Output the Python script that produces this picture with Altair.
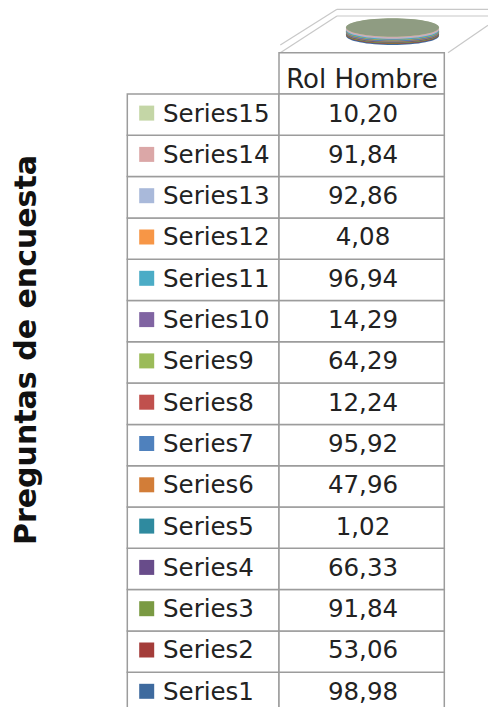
import altair as alt
import pandas as pd

# ---------------- data ----------------
series = ["Series1", "Series2", "Series3", "Series4", "Series5", "Series6", "Series7",
          "Series8", "Series9", "Series10", "Series11", "Series12", "Series13", "Series14", "Series15"]
values = [98.98, 53.06, 91.84, 66.33, 1.02, 47.96, 95.92, 12.24, 64.29, 14.29,
          96.94, 4.08, 92.86, 91.84, 10.20]
colors = ["#3e6a9e", "#a43d3a", "#7a9a43", "#684c8a", "#2f8a9f", "#d27d38", "#4f81bd",
          "#c0504d", "#9bbb59", "#8064a2", "#4bacc6", "#f79646", "#a9b9da", "#dba7a7", "#c4d6a6"]
column_header = "Rol Hombre"
axis_title = "Preguntas de encuesta"

# ---------------- layout ----------------
W, H = 480, 699
FONT = "DejaVu Sans"
TXT = "#222222"
GRID = "#9c9c9c"
FLOOR = "#c8c8c8"
TABLE_L, TABLE_M, TABLE_R = 119.3, 271, 436.3
TABLE_TOP, ROW_H = 86, 41.3
N = len(series)

df = pd.DataFrame({"series": series, "value": values, "color": colors})
df["idx"] = range(1, N + 1)

ys = alt.Scale(domain=[0, N], range=[TABLE_TOP, TABLE_TOP + N * ROW_H])

base = alt.Chart(df).transform_calculate(
    row=f"{N} - datum.idx",
    row_end=f"{N} - datum.idx + 1",
    sw=f"{N} - datum.idx + 0.4625",
    bl=f"{N} - datum.idx + 0.668",
    label="replace(format(datum.value, '.2f'), '.', ',')",
)

label_cells = base.mark_rect(fill="white", stroke=GRID, strokeWidth=1.5).encode(
    x=alt.value(TABLE_L), x2=alt.value(TABLE_M),
    y=alt.Y("row:Q", scale=ys, axis=None), y2="row_end:Q")
value_cells = base.mark_rect(fill="white", stroke=GRID, strokeWidth=1.5).encode(
    x=alt.value(TABLE_M), x2=alt.value(TABLE_R),
    y=alt.Y("row:Q", scale=ys, axis=None), y2="row_end:Q")
swatches = base.mark_square(size=225, filled=True, opacity=1).encode(
    x=alt.value(138.7),
    y=alt.Y("sw:Q", scale=ys, axis=None),
    color=alt.Color("color:N", scale=None))
names = base.mark_text(align="left", baseline="alphabetic", font=FONT, fontSize=24.5, color=TXT).encode(
    x=alt.value(155), y=alt.Y("bl:Q", scale=ys, axis=None), text="series:N")
nums = base.mark_text(align="center", baseline="alphabetic", font=FONT, fontSize=24.5, color=TXT).encode(
    x=alt.value(355), y=alt.Y("bl:Q", scale=ys, axis=None), text="label:N")

hdr_df = pd.DataFrame({"h": [column_header]})
hdr_cell = alt.Chart(hdr_df).mark_rect(fill="white", stroke=GRID, strokeWidth=1.5).encode(
    x=alt.value(TABLE_M), x2=alt.value(TABLE_R), y=alt.value(44.7), y2=alt.value(TABLE_TOP))
hdr_text = alt.Chart(hdr_df).mark_text(align="center", baseline="alphabetic", font=FONT,
                                       fontSize=26, color=TXT).encode(
    x=alt.value(354), y=alt.value(80), text="h:N")

title_df = pd.DataFrame({"t": [axis_title]})
title = alt.Chart(title_df).mark_text(angle=270, align="center", baseline="middle", font=FONT,
                                      fontSize=30, fontWeight="bold", color="#111111").encode(
    x=alt.value(19), y=alt.value(342), text="t:N")

# 3-D floor outline
segments = [
    (272.3, 37.0, 329.0, 1.3),
    (272.3, 44.7, 329.0, 8.0),
    (329.0, 1.3, 480.0, 1.3),
    (329.0, 8.0, 480.0, 8.0),
    (440.0, 44.7, 480.0, 17.3),
]
one = pd.DataFrame({"k": [0]})
floor_layers = [
    alt.Chart(one).mark_rule(color=FLOOR, strokeWidth=1.2).encode(
        x=alt.value(a), y=alt.value(b), x2=alt.value(c), y2=alt.value(d))
    for a, b, c, d in segments
]

# flat stacked cylinder (disc)
ELLIPSE = "M-1,0A1,0.198,0,1,1,1,0A1,0.198,0,1,1,-1,0Z"
DISC_SIZE = 93 ** 2
disc_scale = alt.Scale(domain=[0, 1], range=[27.8, 19.5])
disc = alt.Chart(df).transform_window(
    cum="sum(value)", sort=[alt.SortField("idx")], frame=[None, 0]
).transform_joinaggregate(total="sum(value)").transform_calculate(
    frac="(datum.cum - datum.value) / datum.total"
).mark_point(shape=ELLIPSE, filled=True, size=DISC_SIZE, opacity=1, strokeWidth=0).encode(
    x=alt.value(384.5),
    y=alt.Y("frac:Q", scale=disc_scale, axis=None),
    color=alt.Color("color:N", scale=None),
    order=alt.Order("idx:Q"))
disc_top = alt.Chart(pd.DataFrame({"f": [1.0]})).mark_point(
    shape=ELLIPSE, filled=True, size=DISC_SIZE, opacity=1, strokeWidth=0, color="#8f9c82").encode(
    x=alt.value(384.5), y=alt.Y("f:Q", scale=disc_scale, axis=None))

chart = alt.layer(
    *floor_layers, hdr_cell, label_cells, value_cells, swatches, names, nums, hdr_text,
    title, disc, disc_top
).properties(
    width=W, height=H, padding=0, autosize="none", background="white"
).resolve_scale(y="independent").configure_view(strokeWidth=0)

chart.save("out.html", embed_options={"renderer": "svg", "actions": False})
